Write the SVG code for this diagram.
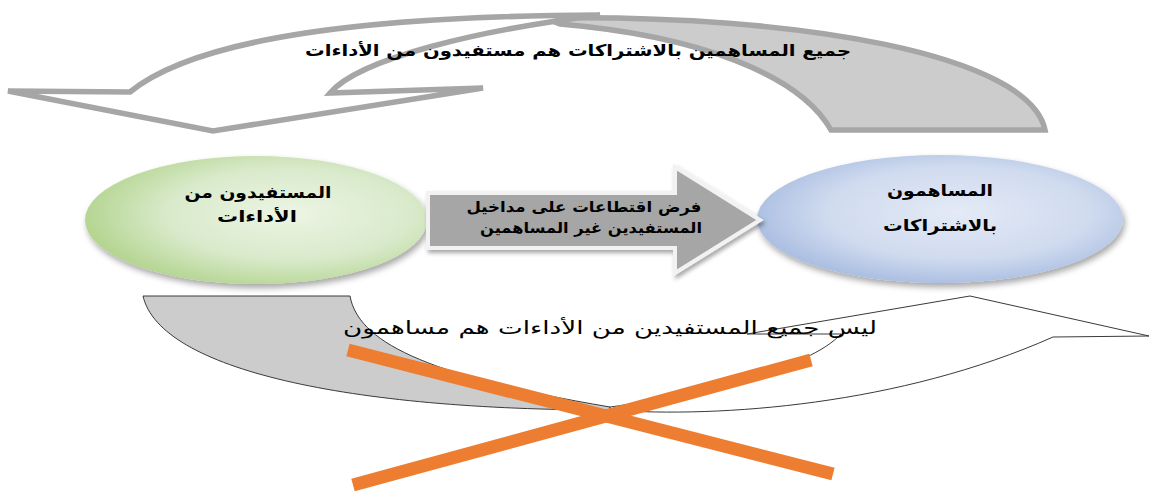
<svg xmlns="http://www.w3.org/2000/svg" width="1149" height="494" viewBox="0 0 1149 494">
<style>
.t{font-family:"DejaVu Sans","Noto Sans",sans-serif;font-weight:bold;fill:#000;text-anchor:middle}
.tn{font-family:"DejaVu Sans","Noto Sans",sans-serif;font-weight:normal;fill:#000;text-anchor:middle}
.big{stroke:#a6a6a6;stroke-width:5.5;stroke-linejoin:miter}
.thin{stroke:#3a3a3a;stroke-width:1}
.x{stroke:#ed7d31;stroke-width:13;stroke-linecap:butt}
</style>
<defs>
<radialGradient id="gG" cx="0.6" cy="0.45" r="0.65">
<stop offset="0" stop-color="#ecf5e4"/>
<stop offset="0.55" stop-color="#d9eacb"/>
<stop offset="1" stop-color="#aed186"/>
</radialGradient>
<radialGradient id="gB" cx="0.55" cy="0.45" r="0.65">
<stop offset="0" stop-color="#e4eaf6"/>
<stop offset="0.55" stop-color="#d0dbef"/>
<stop offset="1" stop-color="#9cb3dc"/>
</radialGradient>
<filter id="sh" x="-10%" y="-10%" width="125%" height="130%">
<feDropShadow dx="2" dy="4" stdDeviation="3" flood-color="#000" flood-opacity="0.35"/>
</filter>
<filter id="sh2" x="-10%" y="-20%" width="125%" height="150%">
<feDropShadow dx="2" dy="3" stdDeviation="2" flood-color="#000" flood-opacity="0.35"/>
</filter>
</defs>
<rect width="1149" height="494" fill="#fff"/>

<g id="connectors">
<g id="top-arrow">
<path class="big" fill="#cccccc" d="M 545,18 C 800,14 1030,55 1045,130 L 831,130 C 800,75 700,36 560,24 Z"/>
<path class="big" fill="#ffffff" d="M 8,91 L 130,92 C 200,35 380,16 600,15 C 480,30 360,58 330,93 L 483,88 L 213,131 Z"/>
</g>
<g id="bottom-arrow">
<path class="thin" fill="#cccccc" d="M 143,296 L 350,296 C 358,340 420,375 610,407 L 610,410 C 350,410 160,370 143,296 Z"/>
<path class="thin" fill="#ffffff" d="M 610,410 C 720,418 900,405 1053,337 L 1149,336 L 970,296 L 747,334 L 841,334 C 810,368 700,395 610,407 Z"/>
</g>
</g>

<g id="node-beneficiaries">
<ellipse cx="256" cy="220" rx="171" ry="64" fill="url(#gG)" filter="url(#sh)"/>
<text class="t" x="258" y="198" font-size="16" textLength="147" lengthAdjust="spacingAndGlyphs">المستفيدون من</text>
<text class="t" x="257" y="222" font-size="16" textLength="80" lengthAdjust="spacingAndGlyphs">الأداءات</text>
</g>

<g id="node-contributors">
<ellipse cx="940" cy="219" rx="183" ry="64" fill="url(#gB)" filter="url(#sh)"/>
<text class="t" x="940" y="196" font-size="16" textLength="106" lengthAdjust="spacingAndGlyphs">المساهمون</text>
<text class="t" x="940" y="231" font-size="16" textLength="114" lengthAdjust="spacingAndGlyphs">بالاشتراكات</text>
</g>

<g id="middle-arrow">
<polygon points="428,193 675,193 675,167 760,220 675,273 675,248 428,248" fill="#a6a6a6" stroke="#f2f2f2" stroke-width="4" filter="url(#sh2)"/>
<text class="t" x="584" y="212" font-size="15" textLength="235" lengthAdjust="spacingAndGlyphs">فرض اقتطاعات على مداخيل</text>
<text class="t" x="591" y="233" font-size="15" textLength="222" lengthAdjust="spacingAndGlyphs">المستفيدين غير المساهمين</text>
</g>

<g id="labels">
<text class="t" x="578" y="56" font-size="16" textLength="546" lengthAdjust="spacingAndGlyphs">جميع المساهمين بالاشتراكات هم مستفيدون من الأداءات</text>
<text class="tn" x="610" y="334" font-size="18" textLength="534" lengthAdjust="spacingAndGlyphs">ليس جميع المستفيدين من الأداءات هم مساهمون</text>
</g>

<g id="cross">
<line class="x" x1="348" y1="350" x2="833" y2="474"/>
<line class="x" x1="353" y1="485" x2="811" y2="360"/>
</g>
</svg>
